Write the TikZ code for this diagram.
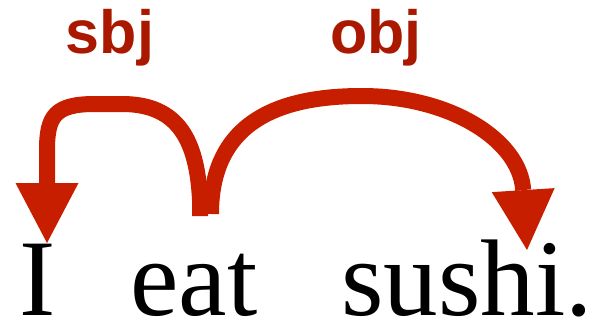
\documentclass[tikz,border=0pt]{standalone}
\usepackage{fontspec}
\setmainfont{Liberation Serif}
\newfontfamily\labfont{Liberation Sans}
\usetikzlibrary{arrows.meta}
\definecolor{arcred}{RGB}{200,30,0}
\definecolor{labred}{RGB}{170,24,0}
\tikzset{
  word/.style={inner sep=0pt, anchor=base, font=\fontsize{109}{112}\selectfont},
  deplabel/.style={inner sep=0pt, anchor=base, text=labred, font=\labfont\bfseries\fontsize{61}{64}\selectfont},
  deparc/.style={draw=arcred, line width=16pt,
    -{Triangle[width=63pt,length=60pt,line width=0pt]}, fill=none, color=arcred}
}
\begin{document}
\begin{tikzpicture}[x=1pt,y=-1pt]
\useasboundingbox (0,0) rectangle (600,324);
\node[word] (I) at (38,315) {I};
\node[word] (eat) at (194,315) {eat};
\node[word] (sushi) at (467,315) {sushi.};
\node[deplabel] (sbj) at (110,53) {sbj};
\node[deplabel] (obj) at (376,53) {obj};
\coordinate (eatS) at (200,216);
\coordinate (eatO) at (211,214);
\coordinate (Itop) at (47,243);
\coordinate (sushitop) at (527,250);
\draw[deparc] (eatS) -- (200,200) .. controls (197,140) and (178,104) .. (122,104)
  -- (95,104) .. controls (55,104) and (47,116) .. (47,150) -- (Itop);
\draw[deparc] (eatO) .. controls (211,115) and (290,96) .. (362,96)
  .. controls (450,96) and (520,140) .. (sushitop);
\end{tikzpicture}
\end{document}
